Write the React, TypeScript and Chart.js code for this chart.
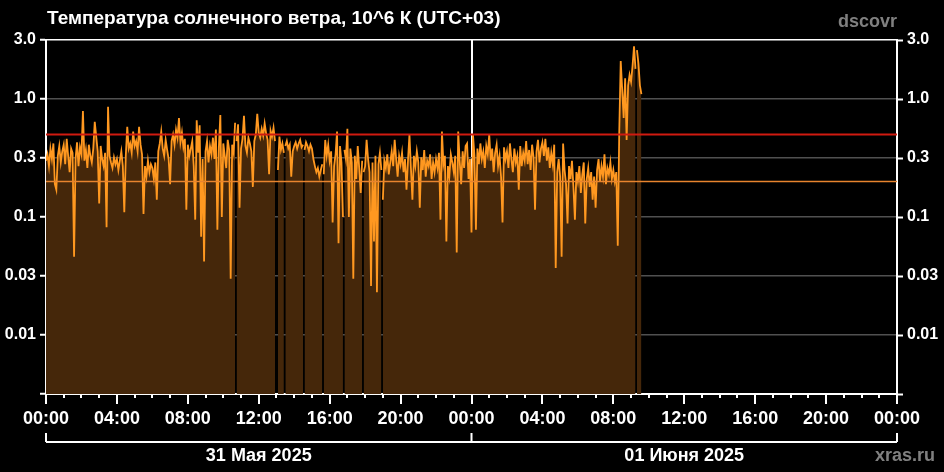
import React, { useEffect, useRef } from 'react';
import { Chart, registerables } from 'chart.js';

Chart.register(...registerables);

// ---- data (solar wind temperature, 10^6 K, 5-minute samples from 31 May 00:00 UTC+03) ----
const sampleStepMin = 5;
const xMaxMin = 2880;

const tempValues: (number | null)[] = [
  // 31 May 00:00
  0.30, 0.34, 0.27, 0.38, 0.31, 0.42, 0.19, 0.17, 0.33, 0.40, 0.29, 0.36,
  // 01:00
  0.41, 0.28, 0.46, 0.33, 0.24, 0.38, 0.35, 0.046, 0.31, 0.43, 0.27, 0.39,
  // 02:00
  0.34, 0.79, 0.30, 0.37, 0.26, 0.41, 0.33, 0.29, 0.38, 0.64, 0.48, 0.36,
  // 03:00
  0.13, 0.40, 0.31, 0.27, 0.35, 0.082, 0.86, 0.33, 0.29, 0.26, 0.32, 0.28,
  // 04:00
  0.31, 0.25, 0.30, 0.36, 0.27, 0.11, 0.33, 0.58, 0.38, 0.42, 0.35, 0.53,
  // 05:00
  0.40, 0.44, 0.36, 0.58, 0.41, 0.34, 0.106, 0.27, 0.22, 0.30, 0.24, 0.28,
  // 06:00
  0.26, 0.21, 0.29, 0.14, 0.36, 0.42, 0.53, 0.38, 0.33, 0.45, 0.37, 0.31,
  // 07:00
  0.19, 0.44, 0.50, 0.41, 0.55, 0.47, 0.69, 0.43, 0.52, 0.39, 0.46, 0.115,
  // 08:00
  0.41, 0.33, 0.38, 0.44, 0.27, 0.095, 0.66, 0.35, 0.60, 0.068, 0.31, 0.042,
  // 09:00
  0.36, 0.44, 0.29, 0.40, 0.34, 0.47, 0.31, 0.55, 0.078, 0.39, 0.73, 0.10,
  // 10:00
  0.42, 0.33, 0.26, 0.45, 0.37, 0.030, 0.41, 0.35, 0.63, 0.44, 0.61, 0.12,
  // 11:00
  0.38, 0.46, 0.72, 0.40, 0.35, 0.47, 0.42, 0.36, 0.18, 0.44, 0.50, 0.75,
  // 12:00
  0.52, 0.47, 0.56, 0.49, 0.62, 0.51, 0.45, 0.23, 0.54, 0.48, 0.57, 0.44,
  // 13:00
  null, 0.25, 0.48, 0.37, 0.42, 0.35, 0.40, 0.44, 0.38, 0.41, 0.22, 0.36,
  // 14:00
  0.40, 0.43, 0.38, 0.42, 0.45, 0.39, 0.41, 0.37, 0.43, 0.40, 0.36, 0.41,
  // 15:00
  0.38, 0.31, 0.27, 0.24, 0.26, 0.22, 0.25, 0.28, 0.23, 0.45, 0.33, 0.41,
  // 16:00
  0.30, 0.36, 0.090, 0.27, 0.34, 0.53, 0.060, 0.40, 0.29, 0.10, 0.37, 0.31,
  // 17:00
  0.56, 0.10, 0.38, 0.29, 0.030, 0.33, 0.21, 0.40, 0.26, 0.16, 0.30, 0.24,
  // 18:00
  0.27, 0.45, 0.31, 0.24, 0.026, 0.29, 0.062, 0.33, 0.023, 0.28, 0.35, 0.25,
  // 19:00
  0.14, 0.30, 0.26, 0.34, 0.23, 0.29, 0.36, 0.27, 0.45, 0.31, 0.22, 0.33,
  // 20:00
  0.28, 0.35, 0.24, 0.31, 0.17, 0.30, 0.50, 0.26, 0.14, 0.33, 0.27, 0.36,
  // 21:00
  0.29, 0.12, 0.32, 0.25, 0.37, 0.22, 0.30, 0.27, 0.34, 0.21, 0.29, 0.24,
  // 22:00
  0.31, 0.26, 0.35, 0.095, 0.53, 0.28, 0.33, 0.062, 0.27, 0.22, 0.34, 0.29,
  // 23:00
  0.24, 0.33, 0.050, 0.53, 0.30, 0.19, 0.36, 0.26, 0.40, 0.42, 0.21, 0.31,
  // 01 June 00:00
  0.074, 0.50, 0.33, 0.078, 0.38, 0.28, 0.42, 0.31, 0.36, 0.26, 0.40, 0.34,
  // 01:00
  0.50, 0.30, 0.38, 0.24, 0.35, 0.41, 0.27, 0.33, 0.22, 0.090, 0.39, 0.31,
  // 02:00
  0.36, 0.26, 0.42, 0.31, 0.24, 0.38, 0.29, 0.33, 0.17, 0.40, 0.27, 0.35,
  // 03:00
  0.30, 0.44, 0.28, 0.37, 0.25, 0.41, 0.32, 0.115, 0.36, 0.45, 0.29, 0.38,
  // 04:00
  0.43, 0.33, 0.46, 0.30, 0.39, 0.26, 0.35, 0.28, 0.41, 0.037, 0.24, 0.31,
  // 05:00
  0.22, 0.046, 0.42, 0.25, 0.19, 0.088, 0.27, 0.21, 0.30, 0.18, 0.095, 0.24,
  // 06:00
  0.20, 0.27, 0.16, 0.23, 0.29, 0.088, 0.21, 0.26, 0.18, 0.24, 0.14, 0.22,
  // 07:00
  0.12, 0.25, 0.31, 0.20, 0.27, 0.22, 0.34, 0.19, 0.26, 0.23, 0.29, 0.21,
  // 08:00
  0.25, 0.20, 0.24, 0.057, 0.52, 2.1, 1.2, 0.69, 1.5, 0.45, 1.3, 1.6,
  // 09:00
  1.4, 1.9, 2.8, 1.8, 2.6, 2.0, 1.3, 1.1,
];

const gapTimesMay31 = ['10:42', '13:27', '14:33', '15:37', '16:47', '17:53', '18:57'];
const gapTimesJun01 = ['09:17'];

const redLevel = 0.5;
const orangeLevel = 0.2;

const yTickValues = [0.0031623, 0.01, 0.031623, 0.1, 0.31623, 1, 3.1623];
const yTickLabels = ['', '0.01', '0.03', '0.1', '0.3', '1.0', '3.0'];
const xTickLabels = [
  '00:00', '04:00', '08:00', '12:00', '16:00', '20:00',
  '00:00', '04:00', '08:00', '12:00', '16:00', '20:00', '00:00',
];
const dayLabels = ['31 Мая 2025', '01 Июня 2025'];
const titleText = 'Температура солнечного ветра, 10^6 К (UTC+03)';
const sourceText = 'dscovr';
const siteText = 'xras.ru';

const FONT = '"Liberation Sans", Arial, sans-serif';

function hhmmToMin(s: string, dayOffset: number) {
  const [h, m] = s.split(':').map(Number);
  return dayOffset * 1440 + h * 60 + m;
}

function buildSeries() {
  const pts: { x: number; y: number | null }[] = tempValues.map((v, i) => ({ x: i * sampleStepMin, y: v }));
  gapTimesMay31.forEach((t) => pts.push({ x: hhmmToMin(t, 0), y: null }));
  gapTimesJun01.forEach((t) => pts.push({ x: hhmmToMin(t, 1), y: null }));
  pts.sort((a, b) => a.x - b.x);
  return pts;
}

const decorPlugin = {
  id: 'decor',
  beforeDraw(chart: any) {
    const { ctx, width, height } = chart;
    ctx.save();
    ctx.fillStyle = '#000';
    ctx.fillRect(0, 0, width, height);
    ctx.restore();
  },
  afterDraw(chart: any) {
    const { ctx, chartArea } = chart;
    const xs = chart.scales.x;
    ctx.save();
    // x tick marks (hourly minor, 4-hourly major)
    ctx.strokeStyle = '#fff';
    ctx.lineWidth = 2;
    const nHours = xMaxMin / 60;
    for (let h = 0; h <= nHours; h++) {
      const px = Math.round(xs.getPixelForValue(h * 60));
      const len = h % 4 === 0 ? 10 : 4;
      ctx.beginPath();
      ctx.moveTo(px, chartArea.bottom);
      ctx.lineTo(px, chartArea.bottom + len);
      ctx.stroke();
    }
    // day bracket
    const x0 = xs.getPixelForValue(0);
    const x1 = xs.getPixelForValue(1440);
    const x2 = xs.getPixelForValue(2880);
    const by = 442;
    ctx.beginPath();
    ctx.moveTo(x0, by);
    ctx.lineTo(x2, by);
    [x0, x1, x2].forEach((px) => {
      ctx.moveTo(px, by - 9);
      ctx.lineTo(px, by);
    });
    ctx.stroke();
    // day labels
    ctx.fillStyle = '#fff';
    ctx.font = `bold 18px ${FONT}`;
    ctx.textAlign = 'center';
    ctx.textBaseline = 'alphabetic';
    ctx.fillText(dayLabels[0], (x0 + x1) / 2, 461);
    ctx.fillText(dayLabels[1], (x1 + x2) / 2, 461);
    // title
    ctx.textAlign = 'left';
    ctx.font = `bold 19px ${FONT}`;
    ctx.fillText(titleText, 47, 24);
    // source / site
    ctx.fillStyle = '#808080';
    ctx.font = `bold 18px ${FONT}`;
    ctx.textAlign = 'right';
    ctx.fillText(sourceText, 897, 27);
    ctx.fillText(siteText, 935, 461);
    ctx.restore();
  },
};

export default function App() {
  const ref = useRef<HTMLCanvasElement>(null);
  useEffect(() => {
    document.body.style.margin = '0';
    document.body.style.background = '#000';
    const canvas = ref.current!;
    const series = buildSeries();
    const yCommon = {
      type: 'logarithmic' as const,
      min: yTickValues[0],
      max: yTickValues[yTickValues.length - 1],
      afterBuildTicks: (scale: any) => {
        scale.ticks = yTickValues.map((v) => ({ value: v }));
      },
      ticks: {
        color: '#fff',
        font: { family: FONT, size: 16, weight: 'bold' as const },
        padding: 4,
        autoSkip: false,
        callback: (_v: any, i: number) => yTickLabels[i],
      },
      border: { display: true, color: '#fff', width: 2 },
    };
    const chart = new Chart(canvas, {
      type: 'line',
      data: {
        datasets: [
          {
            label: 'T',
            data: series as any,
            borderColor: '#ff9820',
            backgroundColor: '#45270a',
            borderWidth: 1.8,
            pointRadius: 0,
            fill: 'start',
            spanGaps: false,
            tension: 0,
            order: 2,
          },
          {
            label: 'red',
            data: [{ x: 0, y: redLevel }, { x: xMaxMin, y: redLevel }] as any,
            borderColor: '#d01a10',
            borderWidth: 2,
            pointRadius: 0,
            fill: false,
            order: 0,
          },
          {
            label: 'orange',
            data: [{ x: 0, y: orangeLevel }, { x: xMaxMin, y: orangeLevel }] as any,
            borderColor: '#e8842e',
            borderWidth: 1.5,
            pointRadius: 0,
            fill: false,
            order: 1,
          },
        ],
      },
      options: {
        responsive: false,
        animation: false,
        events: [],
        layout: { padding: { top: 40, left: 0, right: 0, bottom: 0 } },
        plugins: { legend: { display: false }, tooltip: { enabled: false }, title: { display: false } },
        scales: {
          x: {
            type: 'linear',
            min: 0,
            max: xMaxMin,
            afterBuildTicks: (scale: any) => {
              scale.ticks = xTickLabels.map((_l, i) => ({ value: (i * xMaxMin) / (xTickLabels.length - 1) }));
            },
            afterFit: (scale: any) => {
              scale.height = 78;
            },
            ticks: {
              color: '#fff',
              font: { family: FONT, size: 18, weight: 'bold' },
              padding: 14,
              autoSkip: false,
              maxRotation: 0,
              callback: (_v: any, i: number) => xTickLabels[i],
            },
            grid: {
              drawOnChartArea: true,
              drawTicks: false,
              lineWidth: 2,
              color: (c: any) => (c.tick && c.tick.value === 1440 ? '#ffffff' : 'rgba(0,0,0,0)'),
            },
            border: { display: true, color: '#fff', width: 2 },
          },
          y: {
            ...yCommon,
            position: 'left',
            afterFit: (scale: any) => {
              scale.width = 46;
            },
            grid: {
              drawOnChartArea: true,
              drawTicks: true,
              tickLength: 6,
              lineWidth: 1.5,
              tickColor: '#fff',
              tickWidth: 2,
              color: (c: any) => {
                const i = c.index;
                if (i === yTickValues.length - 1) return '#ffffff';
                if (i === 0) return 'rgba(0,0,0,0)';
                return '#505050';
              },
            },
          } as any,
          y2: {
            ...yCommon,
            position: 'right',
            afterFit: (scale: any) => {
              scale.width = 47;
            },
            grid: {
              drawOnChartArea: false,
              drawTicks: true,
              tickLength: 6,
              tickColor: '#fff',
              tickWidth: 2,
            },
          } as any,
        },
      } as any,
      plugins: [decorPlugin],
    });
    return () => chart.destroy();
  }, []);
  return (
    <div style={{ position: 'absolute', left: 0, top: 0, width: 944, height: 472, background: '#000' }}>
      <canvas ref={ref} width={944} height={472} style={{ display: 'block', width: 944, height: 472 }} />
    </div>
  );
}
